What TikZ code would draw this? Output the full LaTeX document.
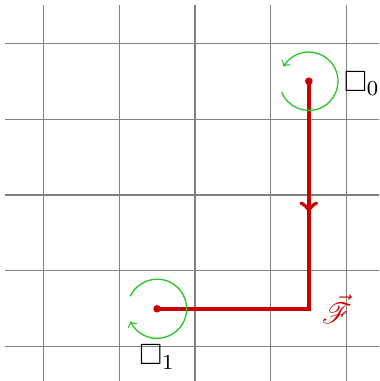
\documentclass[tikz,border=0pt]{standalone}
\usepackage{amssymb}
\usepackage{mathrsfs}
\usetikzlibrary{decorations.markings}
\definecolor{pathred}{RGB}{204,0,0}
\definecolor{rotgreen}{RGB}{40,200,40}
\tikzset{
  gridline/.style={draw=gray, line width=0.4pt},
  fpath/.style={draw=pathred, line width=1.5pt,
    postaction={decorate},
    decoration={markings, mark=at position 0.345 with {\arrow[pathred, line width=1.5pt]{to[scale=1.25]}}}},
  rot/.style={draw=rotgreen, line width=0.5pt, ->},
  lbl/.style={inner sep=0pt, font=\fontsize{11}{13}\selectfont}
}
\begin{document}
\begin{tikzpicture}
\useasboundingbox (-0.571,-0.452) rectangle (4.426,4.571);
\clip (-0.571,-0.452) rectangle (4.426,4.571);
\draw[gridline] (-0.5,-0.5) grid (4.5,4.5);
\coordinate (p0) at (3.5,3.5);
\coordinate (c) at (3.5,0.5);
\coordinate (p1) at (1.5,0.5);
\draw[fpath] (p0) -- (c) -- (p1);
\fill[pathred] (p0) circle (0.05);
\fill[pathred] (p1) circle (0.05);
\draw[rot] ([shift={(202:0.385)}]p0) arc[start angle=202, end angle=510, radius=0.385];
\draw[rot] ([shift={(155:0.39)}]p1) arc[start angle=155, end angle=-155, radius=0.39];
\node[lbl] (l0) at (4.2,3.47) {$\Box_0$};
\node[lbl] (l1) at (1.5,-0.135) {$\Box_1$};
\node[lbl, text=pathred] (lf) at (3.87,0.496) {$\vec{\mathscr{F}}$};
\end{tikzpicture}
\end{document}
